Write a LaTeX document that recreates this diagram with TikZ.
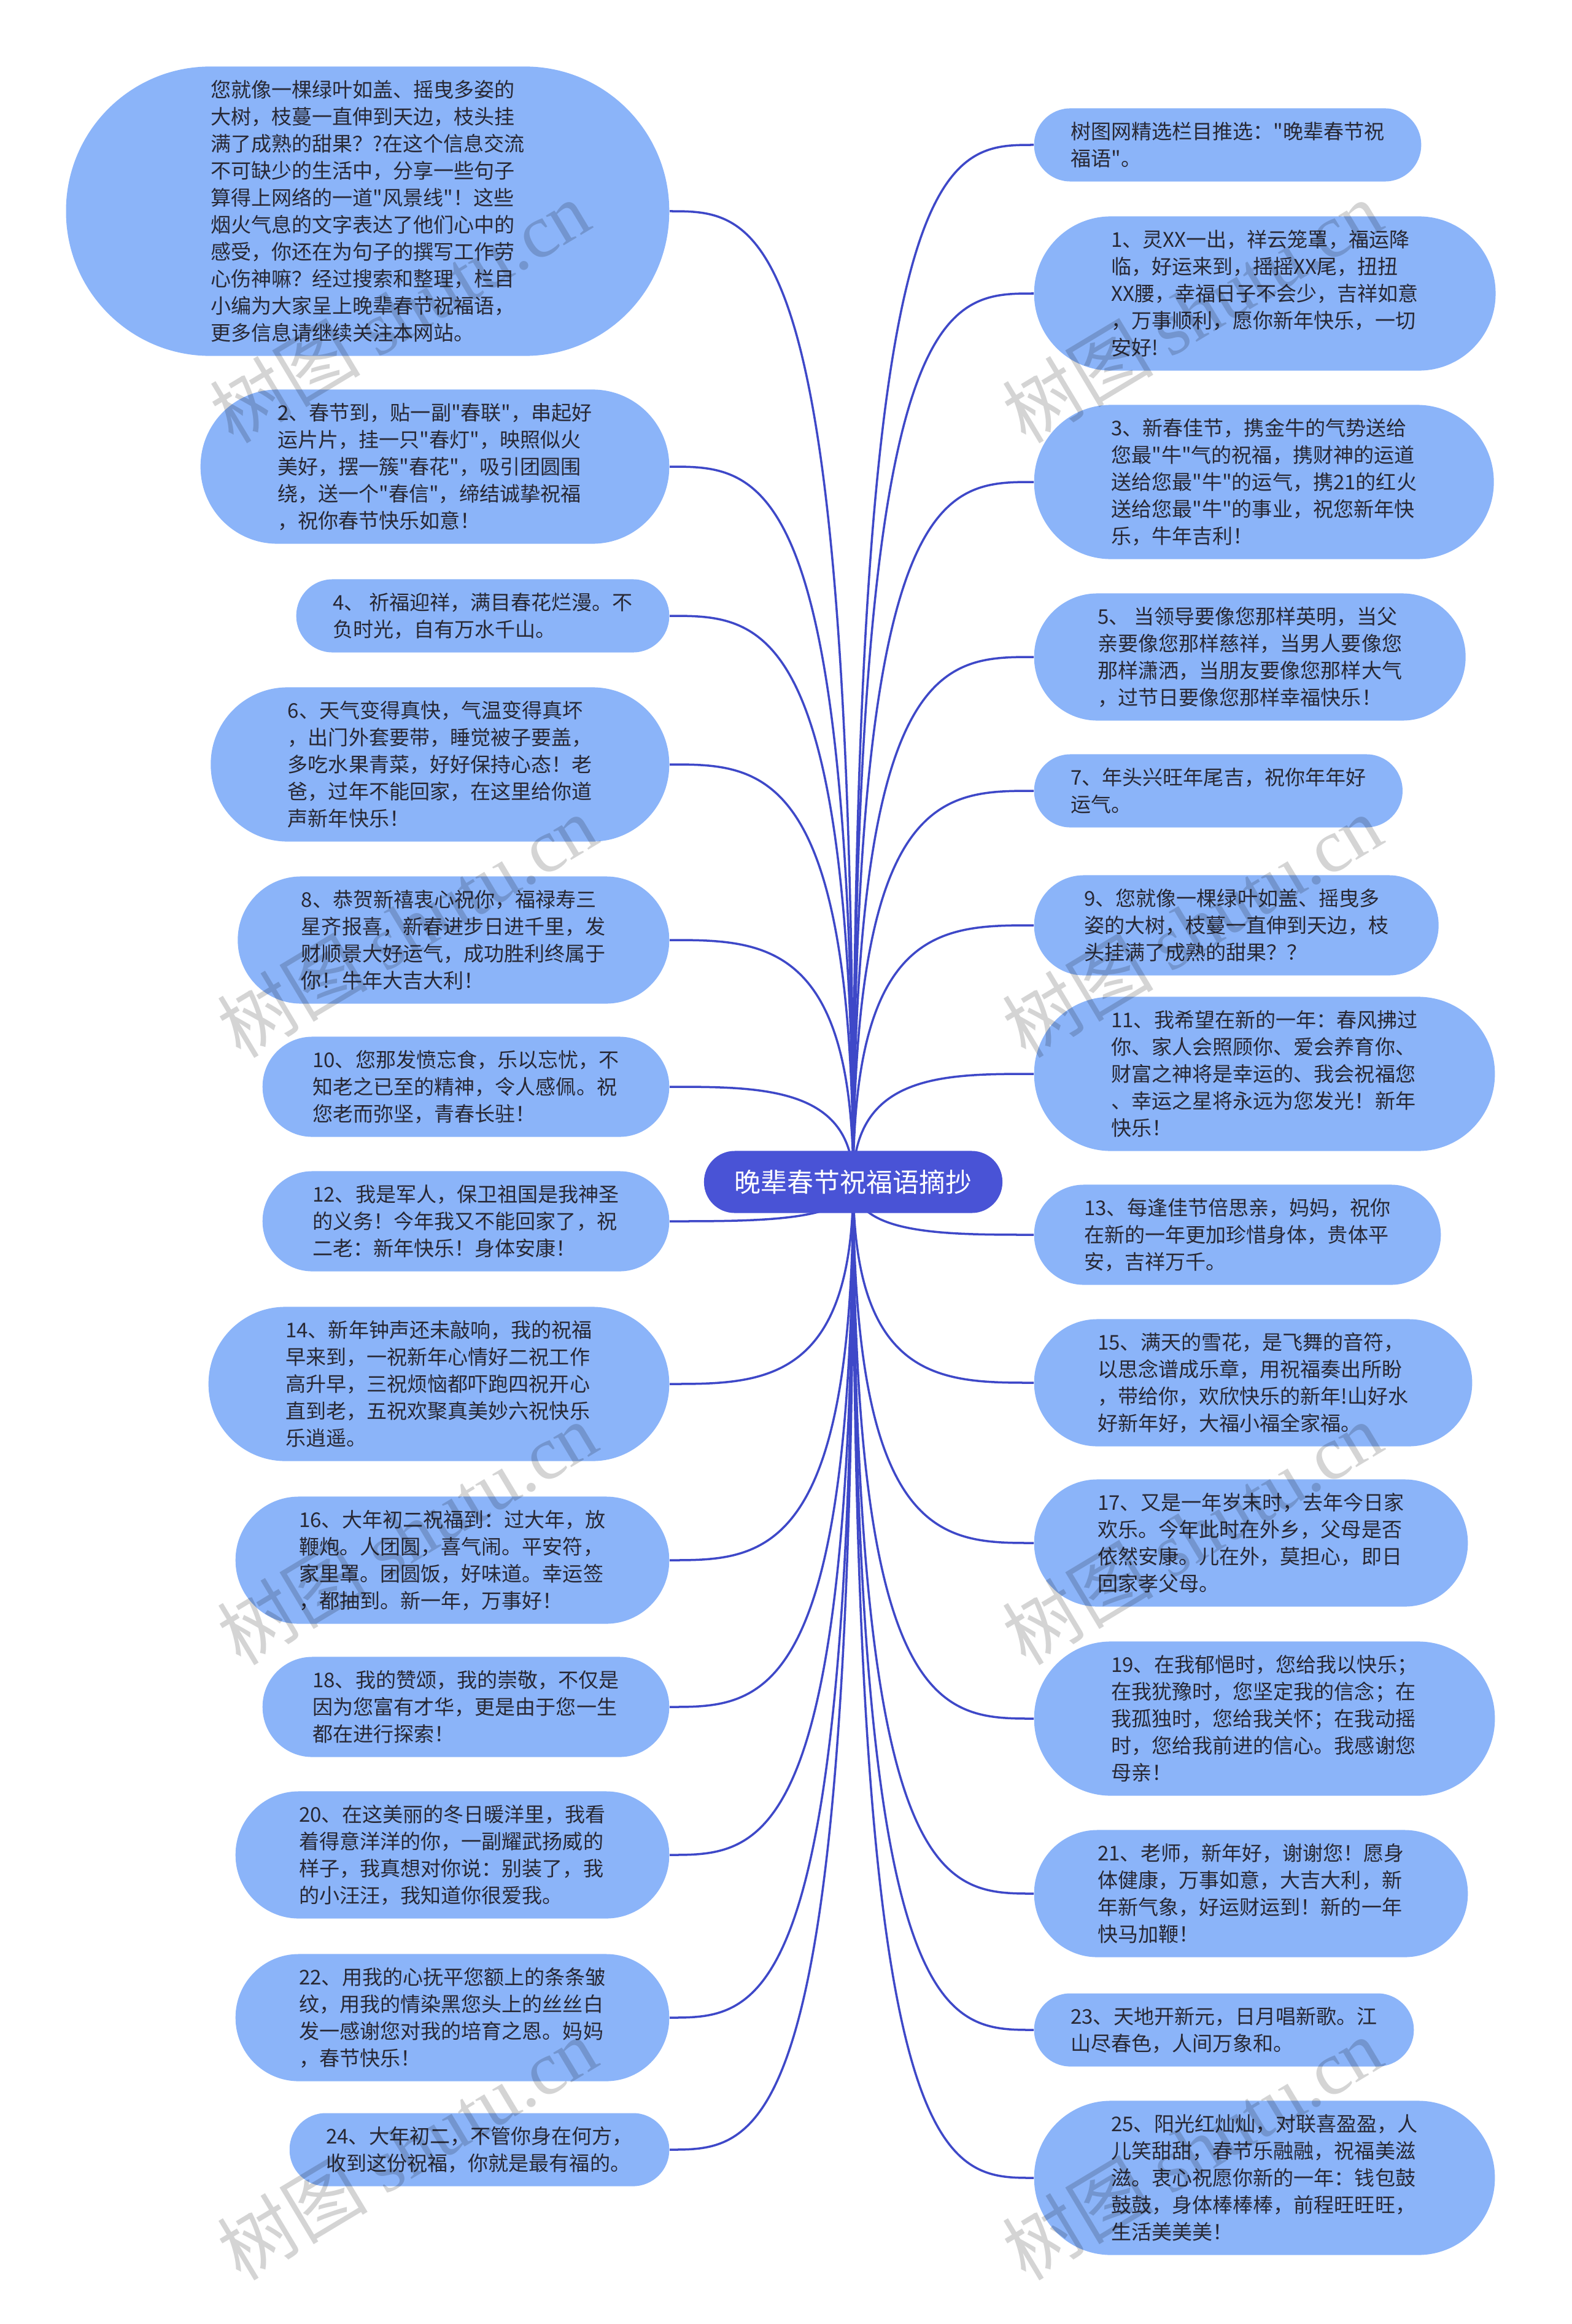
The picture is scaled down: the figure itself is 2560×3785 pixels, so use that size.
\documentclass[tikz,border=0pt]{standalone}
\usepackage{fontspec}
\setmainfont{Noto Sans CJK SC}[Ligatures=TeXOff]
\newfontfamily\wmlatin{Liberation Serif}
\definecolor{rootblue}{RGB}{73, 83, 214}
\definecolor{leafblue}{RGB}{139, 180, 249}
\definecolor{linkblue}{RGB}{62, 72, 200}
\definecolor{inkgray}{RGB}{40, 40, 52}
\usetikzlibrary{calc, backgrounds}

\begin{document}
\begin{tikzpicture}[
        x=0.01cm, y=-0.01cm,
        leaf/.style={rectangle, fill=leafblue, text=inkgray, align=left,
                     inner ysep=0pt, font=\fontsize{9.4pt}{12.5pt}\selectfont},
        lines/.style={minimum height={0.44cm*#1+0.31cm},
                      inner xsep={0.22cm*#1+0.155cm},
                      rounded corners={0.22cm*#1+0.15cm}},
        leftleaf/.style={leaf, lines=#1, anchor=east},
        rightleaf/.style={leaf, lines=#1, anchor=west},
        root/.style={rectangle, fill=rootblue, text=white,
                     minimum height=1.01cm, inner xsep=0.5cm, rounded corners=0.5cm,
                     font=\fontsize{12.2pt}{14pt}\selectfont},
        link/.style={draw=linkblue, line width=0.035cm},
        wmark/.style={rotate=31, text=black, opacity=0.17,
                      font=\fontsize{35pt}{37pt}\selectfont}
      ]
        \useasboundingbox (0,0) rectangle (2560,3785);

        \node[root] (root) at (1390,1925) {晚辈春节祝福语摘抄};

        % left column
        \node[leftleaf=10] (l0) at (1091,344) {您就像一棵绿叶如盖、摇曳多姿的\\大树，枝蔓一直伸到天边，枝头挂\\满了成熟的甜果？?在这个信息交流\\不可缺少的生活中，分享一些句子\\算得上网络的一道"风景线"！这些\\烟火气息的文字表达了他们心中的\\感受，你还在为句子的撰写工作劳\\心伤神嘛？经过搜索和整理，栏目\\小编为大家呈上晚辈春节祝福语，\\更多信息请继续关注本网站。};
        \node[leftleaf=5] (l2) at (1091,760) {2、春节到，贴一副"春联"，串起好\\运片片，挂一只"春灯"，映照似火\\美好，摆一簇"春花"，吸引团圆围\\绕，送一个"春信"，缔结诚挚祝福\\，祝你春节快乐如意！};
        \node[leftleaf=2] (l4) at (1091,1003) {4、 祈福迎祥，满目春花烂漫。不\\负时光，自有万水千山。};
        \node[leftleaf=5] (l6) at (1091,1245) {6、天气变得真快，气温变得真坏\\，出门外套要带，睡觉被子要盖，\\多吃水果青菜，好好保持心态！老\\爸，过年不能回家，在这里给你道\\声新年快乐！};
        \node[leftleaf=4] (l8) at (1091,1531) {8、恭贺新禧衷心祝你，福禄寿三\\星齐报喜，新春进步日进千里，发\\财顺景大好运气，成功胜利终属于\\你！牛年大吉大利！};
        \node[leftleaf=3] (l10) at (1091,1770) {10、您那发愤忘食，乐以忘忧，不\\知老之已至的精神，令人感佩。祝\\您老而弥坚，青春长驻！};
        \node[leftleaf=3] (l12) at (1091,1989) {12、我是军人，保卫祖国是我神圣\\的义务！今年我又不能回家了，祝\\二老：新年快乐！身体安康！};
        \node[leftleaf=5] (l14) at (1091,2254) {14、新年钟声还未敲响，我的祝福\\早来到，一祝新年心情好二祝工作\\高升早，三祝烦恼都吓跑四祝开心\\直到老，五祝欢聚真美妙六祝快乐\\乐逍遥。};
        \node[leftleaf=4] (l16) at (1091,2541) {16、大年初二祝福到：过大年，放\\鞭炮。人团圆，喜气闹。平安符，\\家里罩。团圆饭，好味道。幸运签\\，都抽到。新一年，万事好！};
        \node[leftleaf=3] (l18) at (1091,2780) {18、我的赞颂，我的崇敬，不仅是\\因为您富有才华，更是由于您一生\\都在进行探索！};
        \node[leftleaf=4] (l20) at (1091,3021) {20、在这美丽的冬日暖洋里，我看\\着得意洋洋的你，一副耀武扬威的\\样子，我真想对你说：别装了，我\\的小汪汪，我知道你很爱我。};
        \node[leftleaf=4] (l22) at (1091,3286) {22、用我的心抚平您额上的条条皱\\纹，用我的情染黑您头上的丝丝白\\发一感谢您对我的培育之恩。妈妈\\，春节快乐！};
        \node[leftleaf=2] (l24) at (1091,3501) {24、大年初二，不管你身在何方，\\收到这份祝福，你就是最有福的。};

        % right column
        \node[rightleaf=2] (r0) at (1684,236) {树图网精选栏目推选："晚辈春节祝\\福语"。};
        \node[rightleaf=5] (r1) at (1684,478) {1、灵XX一出，祥云笼罩，福运降\\临，好运来到，摇摇XX尾，扭扭\\XX腰，幸福日子不会少，吉祥如意\\，万事顺利，愿你新年快乐，一切\\安好!};
        \node[rightleaf=5] (r3) at (1684,785) {3、新春佳节，携金牛的气势送给\\您最"牛"气的祝福，携财神的运道\\送给您最"牛"的运气，携21的红火\\送给您最"牛"的事业，祝您新年快\\乐，牛年吉利！};
        \node[rightleaf=4] (r5) at (1684,1070) {5、 当领导要像您那样英明，当父\\亲要像您那样慈祥，当男人要像您\\那样潇洒，当朋友要像您那样大气\\，过节日要像您那样幸福快乐！};
        \node[rightleaf=2] (r7) at (1684,1288) {7、年头兴旺年尾吉，祝你年年好\\运气。};
        \node[rightleaf=3] (r9) at (1684,1507) {9、您就像一棵绿叶如盖、摇曳多\\姿的大树，枝蔓一直伸到天边，枝\\头挂满了成熟的甜果？？};
        \node[rightleaf=5] (r11) at (1684,1749) {11、我希望在新的一年：春风拂过\\你、家人会照顾你、爱会养育你、\\财富之神将是幸运的、我会祝福您\\、幸运之星将永远为您发光！新年\\快乐！};
        \node[rightleaf=3] (r13) at (1684,2011) {13、每逢佳节倍思亲，妈妈，祝你\\在新的一年更加珍惜身体，贵体平\\安，吉祥万千。};
        \node[rightleaf=4] (r15) at (1684,2252) {15、满天的雪花，是飞舞的音符，\\以思念谱成乐章，用祝福奏出所盼\\，带给你，欢欣快乐的新年!山好水\\好新年好，大福小福全家福。};
        \node[rightleaf=4] (r17) at (1684,2513) {17、又是一年岁末时，去年今日家\\欢乐。今年此时在外乡，父母是否\\依然安康。儿在外，莫担心，即日\\回家孝父母。};
        \node[rightleaf=5] (r19) at (1684,2799) {19、在我郁悒时，您给我以快乐；\\在我犹豫时，您坚定我的信念；在\\我孤独时，您给我关怀；在我动摇\\时，您给我前进的信心。我感谢您\\母亲！};
        \node[rightleaf=4] (r21) at (1684,3084) {21、老师，新年好，谢谢您！愿身\\体健康，万事如意，大吉大利，新\\年新气象，好运财运到！新的一年\\快马加鞭！};
        \node[rightleaf=2] (r23) at (1684,3306) {23、天地开新元，日月唱新歌。江\\山尽春色，人间万象和。};
        \node[rightleaf=5] (r25) at (1684,3547) {25、阳光红灿灿，对联喜盈盈，人\\儿笑甜甜，春节乐融融，祝福美滋\\滋。衷心祝愿你新的一年：钱包鼓\\鼓鼓，身体棒棒棒，前程旺旺旺，\\生活美美美！};

        % connectors behind the boxes
        \begin{scope}[on background layer]
          \fill[white] (0,0) rectangle (2560,3785);
          \foreach \leaf in {l0,l2,l4,l6,l8,l10,l12,l14,l16,l18,l20,l22,l24} {
            \draw[link] (root.center) .. controls (root.center |- \leaf.east)
              and ($(root.center |- \leaf.east)!0.5!(\leaf.east)$) .. (\leaf.east);
          }
          \foreach \leaf in {r0,r1,r3,r5,r7,r9,r11,r13,r15,r17,r19,r21,r23,r25} {
            \draw[link] (root.center) .. controls (root.center |- \leaf.west)
              and ($(root.center |- \leaf.west)!0.5!(\leaf.west)$) .. (\leaf.west);
          }
        \end{scope}

        % watermark
        \node[wmark] (wm1) at (651,507) {树图 {\wmlatin shutu.cn}};
        \node[wmark] (wm2) at (663,1508) {树图 {\wmlatin shutu.cn}};
        \node[wmark] (wm3) at (663,2497) {树图 {\wmlatin shutu.cn}};
        \node[wmark] (wm4) at (663,3499) {树图 {\wmlatin shutu.cn}};
        \node[wmark] (wm5) at (1942,507) {树图 {\wmlatin shutu.cn}};
        \node[wmark] (wm6) at (1942,1508) {树图 {\wmlatin shutu.cn}};
        \node[wmark] (wm7) at (1942,2497) {树图 {\wmlatin shutu.cn}};
        \node[wmark] (wm8) at (1942,3499) {树图 {\wmlatin shutu.cn}};
      \end{tikzpicture}
\end{document}
